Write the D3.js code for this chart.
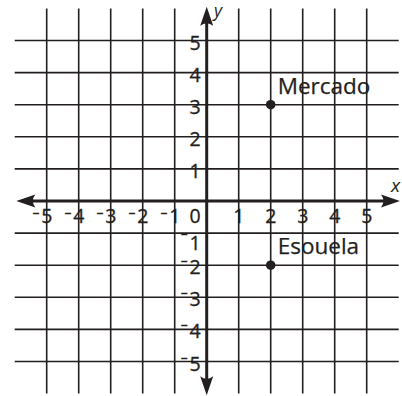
<!DOCTYPE html>
<html><head><meta charset="utf-8">
<script src="https://cdn.jsdelivr.net/npm/d3@7"></script>
<style>
html,body{margin:0;padding:0;background:#fff;}
svg{display:block;}
text{font-family:"Open Sans",sans-serif;fill:#231f20;}
</style></head>
<body>
<svg id="chart" width="402" height="396"></svg>
<script>
// data
const gridValues = [-5,-4,-3,-2,-1,1,2,3,4,5];
const xTickLabels = [-5,-4,-3,-2,-1,1,2,3,4,5];
const yTickLabels = [5,4,3,2,1,-1,-2,-3,-4,-5];
const pointNames = ["Mercado","Esouela"];
const pointX = [2, 2];
const pointY = [3, -2];

const ink = "#231f20";
const svg = d3.select("#chart");
const x = d3.scaleLinear().domain([-6,6]).range([14.7,398.7]);
const y = d3.scaleLinear().domain([-6,6]).range([393.6,8.4]);

// grid
const g = svg.append("g");
g.selectAll("line.v").data(gridValues).join("line").attr("class","v")
  .attr("x1",d=>x(d)).attr("x2",d=>x(d))
  .attr("y1",y(6)).attr("y2",y(-6))
  .attr("stroke",ink).attr("stroke-width",1.6);
g.selectAll("line.h").data(gridValues).join("line").attr("class","h")
  .attr("y1",d=>y(d)).attr("y2",d=>y(d))
  .attr("x1",x(-6)).attr("x2",x(6))
  .attr("stroke",ink).attr("stroke-width",1.6);

// axes
const ax = svg.append("g");
ax.append("line").attr("x1",x(-5.95)+10).attr("x2",x(6.04)-10)
  .attr("y1",y(0)).attr("y2",y(0)).attr("stroke",ink).attr("stroke-width",3);
ax.append("line").attr("y1",y(6.05)+10).attr("y2",y(-6.05)-10)
  .attr("x1",x(0)).attr("x2",x(0)).attr("stroke",ink).attr("stroke-width",3);

function arrow(tx,ty,angle){
  ax.append("path")
    .attr("d","M0,0 L-19,-6.5 Q-14,0 -19,6.5 Z")
    .attr("fill",ink)
    .attr("transform",`translate(${tx},${ty}) rotate(${angle})`);
}
arrow(x(6.04), y(0), 0);
arrow(x(-5.95), y(0), 180);
arrow(x(0), y(6.05), -90);
arrow(x(0), y(-6.05), 90);

// tick labels
const fs = 19.5;
function label(sel, raise){
  sel.each(function(d){
    const t = d3.select(this);
    if(d<0){
      const r = raise(d);
      t.append("tspan").attr("font-size",13).attr("dy",-r)
        .attr("stroke",ink).attr("stroke-width",0.6).text("–");
      t.append("tspan").attr("dx",2).attr("dy",r).text(Math.abs(d));
    } else t.text(d);
  });
}
svg.append("g").selectAll("text").data(xTickLabels).join("text")
  .attr("x",d=>x(d)+5.8).attr("y",y(0)+22)
  .attr("text-anchor","end").attr("font-size",fs)
  .attr("stroke",ink).attr("stroke-width",0.3)
  .call(label, d=>6.5);
svg.append("g").selectAll("text").data(yTickLabels).join("text")
  .attr("x",x(0)-6).attr("y",d=>y(d)+(d===-1?16.5:9))
  .attr("text-anchor","end").attr("font-size",fs)
  .attr("stroke",ink).attr("stroke-width",0.3)
  .call(label, d=>d===-1?12:9);
svg.append("text").attr("x",x(0)-6).attr("y",y(0)+21.5)
  .attr("text-anchor","end").attr("font-size",fs)
  .attr("stroke",ink).attr("stroke-width",0.3).text("0");

// axis names
svg.append("text").attr("x",400).attr("y",192).attr("text-anchor","end")
  .attr("font-size",19).attr("font-style","italic").text("x");
svg.append("text").attr("x",214).attr("y",16.5)
  .attr("font-size",17.5).attr("font-style","italic").text("y");

// points
const pts = pointNames.map((n,i)=>({name:n,x:pointX[i],y:pointY[i]}));
svg.append("g").selectAll("circle").data(pts).join("circle")
  .attr("cx",d=>x(d.x)).attr("cy",d=>y(d.y)).attr("r",4.8).attr("fill",ink);
svg.append("g").selectAll("text").data(pts).join("text")
  .attr("x",d=>x(d.x)+7).attr("y",d=>y(d.y)-11)
  .attr("font-size",22.5).attr("stroke",ink).attr("stroke-width",0.25)
  .text(d=>d.name);
</script>
</body></html>
